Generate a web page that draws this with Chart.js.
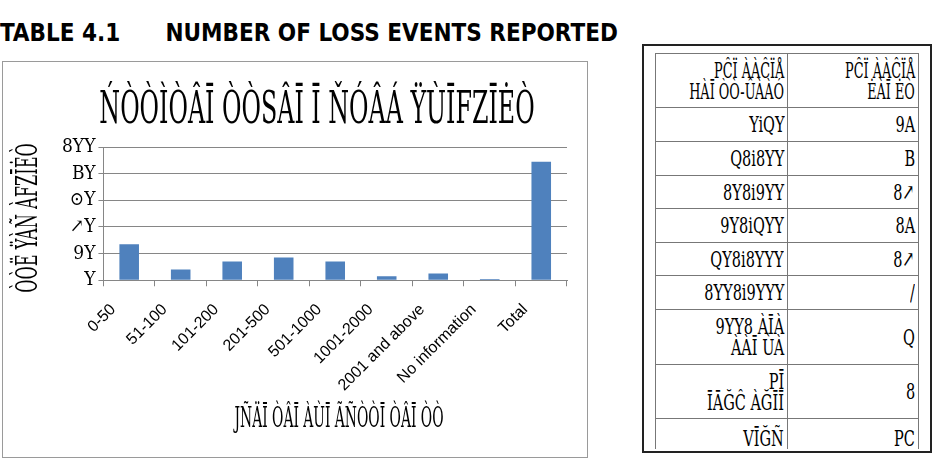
<!DOCTYPE html>
<html>
<head>
<meta charset="utf-8">
<script src="https://cdn.jsdelivr.net/npm/chart.js@4.4.1/dist/chart.umd.min.js"></script>
<style>
  body { margin: 0; background: #fff; width: 941px; height: 462px; position: relative; overflow: hidden; }
  .heading {
    position: absolute; left: 0; top: 19px;
    font-family: 'DejaVu Sans Condensed', 'DejaVu Sans', sans-serif;
    font-weight: bold; font-size: 24px; color: #000; white-space: pre;
  }
  .chart-box {
    position: absolute; left: 2px; top: 61px; width: 586px; height: 397px;
    box-sizing: border-box; border: 1px solid #9a9a9a;
  }
  .table-box {
    position: absolute; left: 642px; top: 44px; width: 290px; height: 409px;
    box-sizing: border-box; border: 2px solid #222; overflow: hidden;
  }
  table {
    position: absolute; left: 11px; top: 7px; width: 263px;
    border-collapse: collapse; table-layout: fixed;
    font-family: 'DejaVu Serif Condensed', 'DejaVu Serif', serif; font-size: 23px;
  }
  td {
    border: 1px solid #777; text-align: right; padding: 0 3px; line-height: 21px;
    vertical-align: middle; white-space: nowrap; overflow: hidden; direction: rtl;
  }
  td span {
    display: inline-block; direction: ltr; unicode-bidi: isolate;
    transform: scaleX(0.7); transform-origin: right center;
  }
  tr.head td span { transform: scaleX(0.62); }
  tr:last-child td { border-bottom: none; vertical-align: bottom; }
</style>
</head>
<body>
<div class="heading">TABLE 4.1      NUMBER OF LOSS EVENTS REPORTED</div>
<div class="chart-box"><canvas id="c" width="584" height="395"></canvas></div>
<div class="table-box"><table id="t"><colgroup><col style="width:132px"><col style="width:131px"></colgroup></table></div>
<script>
const categories = ['0-50', '51-100', '101-200', '201-500', '501-1000', '1001-2000', '2001 and above', 'No information', 'Total'];
const events = [27, 8, 14, 17, 14, 3, 5, 1, 89];
const tickLabels = ['Y', '9Y', '↗Y', '⊙Y', 'BY', '8YY'];
const chartTitle = 'ŃÒÒÌÒÂĪ ÒÒSÂĪ Ī ŇÓÂÁ ŸÙĪFZĪĖÒ';
const yTitle = 'ÒÒË ŸÀÑ ÀFZĪĖÒ';
const xTitle = 'JÑÄĪ ÒÂĪ ÀÙĪ ÃÑÒÒĪ ÒÂĪ ÒÒ';
const tableHead = [['PĈÏ ÀÀĈÏÅ', 'HÀĪ ÒÒ-ÛÀÀÓ'], ['PĈÏ ÀÀĈÏÅ', 'ĖÀĪ ĖÒ']];
const tableRanges = ['YiQY', 'Q8i8YY', '8Y8i9YY', '9Y8iQYY', 'QY8i8YYY', '8YY8i9YYY', '9YY8 ÀĪÀ|ÀÀĪ ÙÀ', 'PĪ|ĪĀĞĈ ÀĞĪĪ', 'VĪĞÑ'];
const tableCounts = ['9A', 'B', '8↗', '8A', '8↗', '/', 'Q', '8', 'PC'];
const rowHeights = [54, 34, 34, 33, 34, 33, 34, 55, 54, 30];

// table
const tbl = document.getElementById('t');
const mk = (cells, h, cls) => {
  const tr = document.createElement('tr');
  tr.style.height = h + 'px';
  if (cls) tr.className = cls;
  cells.forEach((txt) => {
    const td = document.createElement('td');
    td.innerHTML = txt.split('|').map((s) => '<span>' + s + '</span>').join('<br>');
    tr.appendChild(td);
  });
  tbl.appendChild(tr);
};
mk([tableHead[0].join('|'), tableHead[1].join('|')], rowHeights[0], 'head');
tableRanges.forEach((r, i) => mk([r, tableCounts[i]], rowHeights[i + 1]));

const serif = "'DejaVu Serif Condensed', 'DejaVu Serif', serif";

// squeezed text drawing for the titles
const titlePlugin = {
  id: 'titles',
  afterDraw(chart) {
    const { ctx } = chart;
    const squeeze = (txt, x, y, size, sx, rot) => {
      ctx.save();
      ctx.translate(x, y);
      if (rot) ctx.rotate(rot);
      ctx.scale(sx, 1);
      ctx.font = size + 'px ' + serif;
      ctx.fillStyle = '#000';
      ctx.textAlign = 'center';
      ctx.textBaseline = 'middle';
      ctx.fillText(txt, 0, 0);
      ctx.restore();
    };
    squeeze(chartTitle, 314, 50, 44, 0.6);
    squeeze(yTitle, 26, 156, 30, 0.6, -Math.PI / 2);
    squeeze(xTitle, 336, 358, 28, 0.55);
  }
};

new Chart(document.getElementById('c'), {
  type: 'bar',
  data: {
    labels: categories,
    datasets: [{
      data: events,
      backgroundColor: '#4f81bd',
      borderWidth: 0,
      categoryPercentage: 1,
      barPercentage: 0.38,
    }],
  },
  options: {
    responsive: false,
    animation: false,
    layout: { padding: { top: 85, left: 56, right: 20, bottom: 48 } },
    plugins: { legend: { display: false }, tooltip: { enabled: false } },
    scales: {
      x: {
        grid: { offset: true, drawOnChartArea: false, color: '#868686', tickLength: 6 },
        border: { color: '#868686' },
        ticks: {
          minRotation: 45, maxRotation: 45, color: '#000', padding: 14, labelOffset: -16,
          font: { family: "'Liberation Sans', sans-serif", size: 16 },
        },
      },
      y: {
        min: 0, max: 100,
        grid: { color: '#868686', tickLength: 5 },
        border: { color: '#868686' },
        ticks: {
          stepSize: 20, color: '#000', padding: 3, autoSkip: false,
          font: { family: serif, size: 19 },
          callback: (v) => tickLabels[v / 20],
        },
      },
    },
  },
  plugins: [titlePlugin],
});
</script>
</body>
</html>
